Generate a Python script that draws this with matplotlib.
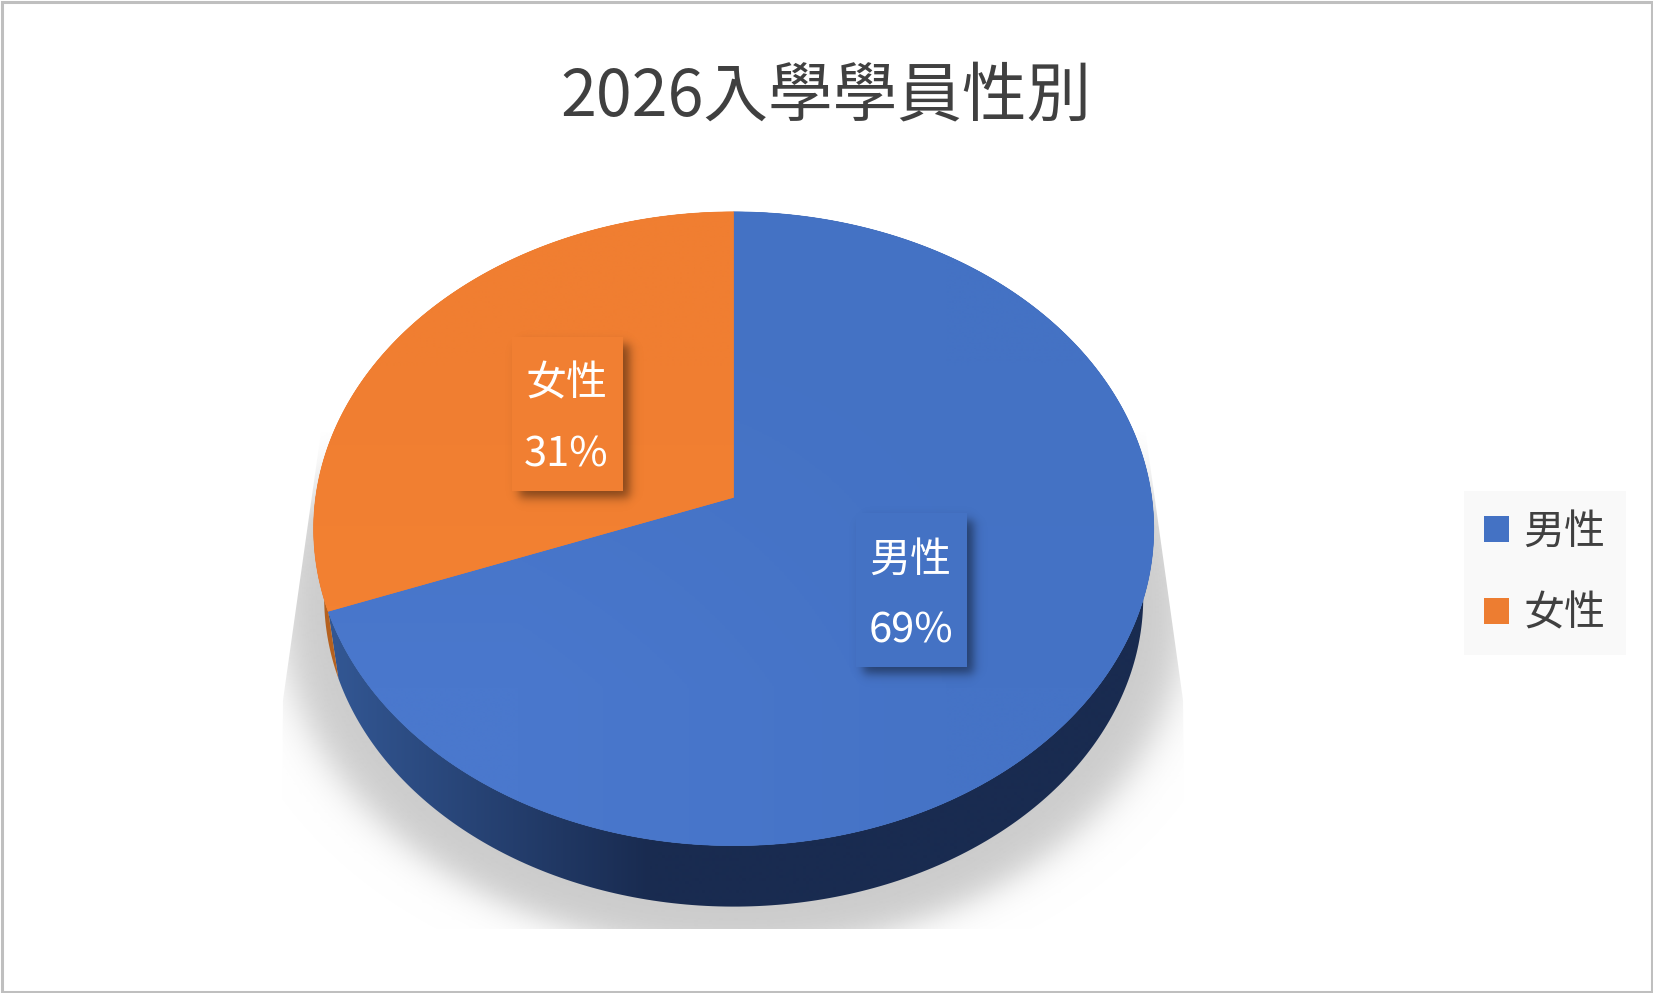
import numpy as np
import matplotlib
matplotlib.use('Agg')
from matplotlib import pyplot as plt
from matplotlib.patches import Polygon, Rectangle, Patch

plt.rcParams['font.family'] = ['Noto Sans CJK TC', 'DejaVu Sans']

# data
title = '2026入學學員性別'
categories = ['男性', '女性']
shares = [69.3, 30.7]
top_colors = ['#4472C4', '#F17F32']
legend_colors = ['#4472C4', '#ED7D31']

W, H = 1653, 993

# pie geometry in pixels, the apex sits above the ellipse centre because of the tilt
cx, apex_y = 733.7, 497.6
rad_x, rad_y, persp = 418.0, 313.8, 0.0983
depth, shrink = 69.7, 0.975

# very slight lighting on the top faces: [[top left, top right], [bottom left, bottom right]]
face_light = [
    [[(69, 115, 198), (68, 114, 196)], [(74, 120, 205), (69, 115, 198)]],
    [[(240, 126, 49), (240, 126, 49)], [(244, 130, 50), (244, 130, 50)]],
]


def project(theta, level=0):
    # theta runs clockwise from 12 o'clock, level 1 is the bottom rim
    u, v = np.sin(theta), np.cos(theta)
    w = 1 + persp * v
    s = 1 - (1 - shrink) * level
    return cx + s * rad_x * u / w, apex_y + depth * level - s * rad_y * v / w


def add_image(ax, arr, extent, clip=None, zorder=1):
    im = ax.imshow(arr, extent=extent, aspect='auto', interpolation='bilinear', zorder=zorder)
    if clip is not None:
        patch = Polygon(clip, closed=True, transform=ax.transData, fc='none', ec='none')
        ax.add_patch(patch)
        im.set_clip_path(patch)
    return im


def box_shadow(ax, x0, y0, x1, y1, off=7, blur=6, strength=0.45, zorder=5):
    # soft dark rectangle behind a data label
    pad = 30
    xs = np.arange(x0 - pad, x1 + pad + off)
    ys = np.arange(y0 - pad, y1 + pad + off)
    gx = 0.5 * (np.tanh((xs - x0 - off) / blur) - np.tanh((xs - x1 - off) / blur))
    gy = 0.5 * (np.tanh((ys - y0 - off) / blur) - np.tanh((ys - y1 - off) / blur))
    rgba = np.zeros((len(ys), len(xs), 4))
    rgba[..., 3] = strength * np.outer(gy, gx)
    add_image(ax, rgba, (xs[0], xs[-1], ys[-1], ys[0]), zorder=zorder)


fig = plt.figure(figsize=(W / 100, H / 100), dpi=100, facecolor='white')
ax = fig.add_axes([0, 0, 1, 1])
ax.set_axis_off()

# ground shadow, cut off by a hard edged trapezoid like the original
xs = np.arange(270, 1200)
ys = np.arange(420, 960)
gx, gy = np.meshgrid(xs, ys)
r = np.sqrt(((gx - cx) / 453.0) ** 2 + ((gy - 606.0) / 345.0) ** 2)
shadow = np.ones(r.shape + (4,))
shadow[..., :3] = 204 / 255
shadow[..., 3] = 0.5 * (1 - np.tanh((r - 1) * 345 / 18)) * np.clip((gy - 425) / 95, 0, 1)
trap = [(321, 432), (283, 700), (281, 929), (1186, 929), (1183, 700), (1145.5, 432)]
add_image(ax, shadow, (xs[0], xs[-1], ys[-1], ys[0]), clip=trap, zorder=1)

# slice angles from the values
edges = np.cumsum([0] + shares) / sum(shares) * 2 * np.pi

# side wall first
for i, cat in enumerate(categories):
    th = np.linspace(edges[i], edges[i + 1], 300)
    tx, ty = project(th, 0)
    bx, by = project(th, 1)
    wall = np.column_stack([np.r_[tx, bx[::-1]], np.r_[ty, by[::-1]]])
    if i == 0:
        grad_x = np.arange(320, 1180)
        grad = np.zeros((1, len(grad_x), 3))
        for c, (a, b) in enumerate([(50, 25), (86, 43), (146, 80)]):
            grad[0, :, c] = np.interp(grad_x, [339, 650], [a, b]) / 255
        add_image(ax, grad, (grad_x[0], grad_x[-1], 960, 200), clip=wall, zorder=2)
    else:
        ax.add_patch(Polygon(wall, closed=True, fc='#B5611F', ec='none', zorder=2))

# top faces
for i, cat in enumerate(categories):
    th = np.linspace(edges[i], edges[i + 1], 400)
    tx, ty = project(th, 0)
    face = np.column_stack([np.r_[cx, tx], np.r_[apex_y, ty]])
    ax.add_patch(Polygon(face, closed=True, fc=top_colors[i], ec=top_colors[i], lw=0.5, zorder=3))
    light = np.array(face_light[i]) / 255
    add_image(ax, light, (305, 1160, 850, 205), clip=face, zorder=3.5)

# data labels
label_boxes = [(856, 513, 967, 667), (512, 337, 623, 491)]
for i, cat in enumerate(categories):
    x0, y0, x1, y1 = label_boxes[i]
    box_shadow(ax, x0, y0, x1, y1)
    ax.add_patch(Rectangle((x0, y0), x1 - x0, y1 - y0, fc=top_colors[i], ec='none', zorder=6))
    ax.text((x0 + x1) / 2 - 1, y0 + 47, cat, color='white', fontsize=29.5, ha='center', va='center', zorder=7)
    ax.text((x0 + x1) / 2 - 1, y0 + 118, f'{shares[i]:.0f}%', color='white', fontsize=30, ha='center', va='center', zorder=7)

ax.text(825.5, 97, title, color='#404040', fontsize=46.5, ha='center', va='center', fontweight='light', zorder=7)

handles = [Patch(fc=c, ec='none') for c in legend_colors]
leg = ax.legend(handles, categories, loc='upper left', bbox_to_anchor=(1464 / W, 1 - 491 / H),
                bbox_transform=ax.transAxes, fontsize=29.5, frameon=True, fancybox=False,
                facecolor='#F9F9F9', edgecolor='none', framealpha=1, labelcolor='#404040',
                handlelength=0.6, handleheight=0.6, handletextpad=0.35, labelspacing=1.0,
                borderpad=0.5, borderaxespad=0)
leg.set_zorder(8)

ax.set_xlim(0, W)
ax.set_ylim(H, 0)

# grey outline of the whole chart area
ax.add_patch(Rectangle((1.5, 1.5), W - 3, H - 3, fc='none', ec='#BFBFBF', lw=2.2, zorder=10))

fig.savefig('out.png', dpi=100)
